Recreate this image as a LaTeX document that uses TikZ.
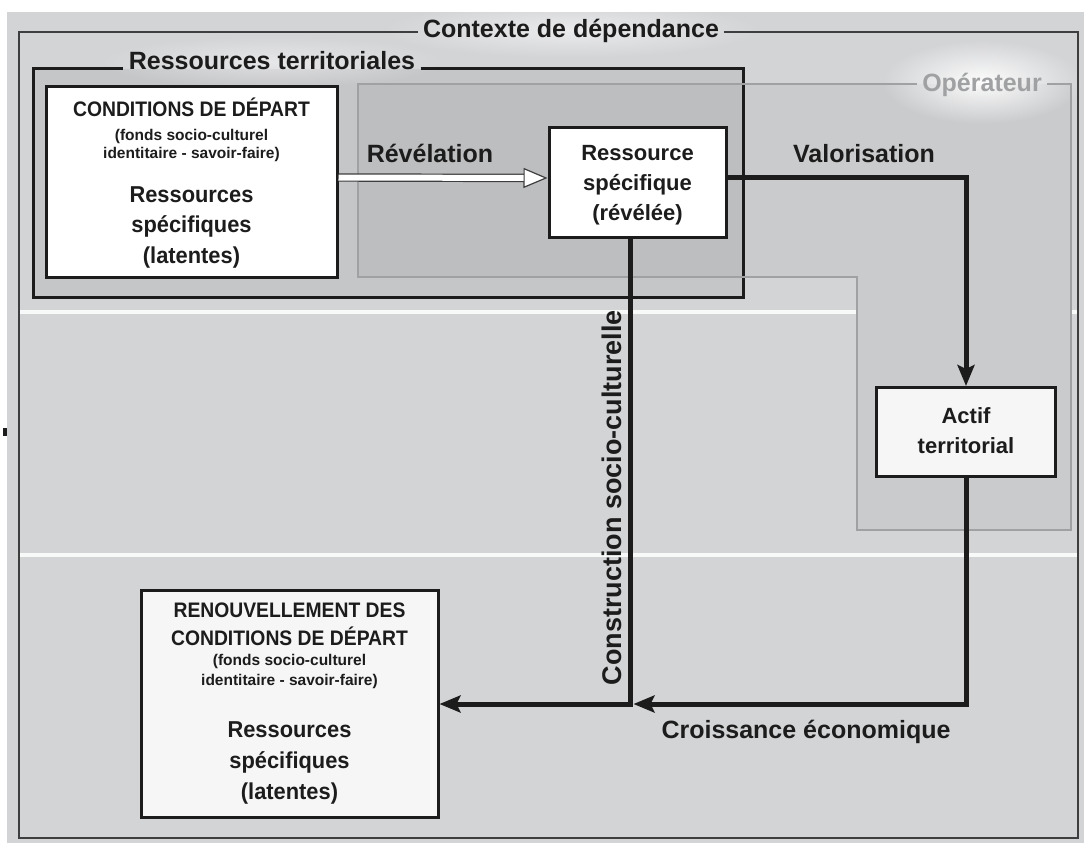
\documentclass[tikz,border=0pt]{standalone}
\usepackage{fontspec}
\setmainfont{Liberation Sans}
\newfontfamily\etroit[FakeStretch=0.92]{Liberation Sans}
\newfontfamily\mietroit[FakeStretch=0.95]{Liberation Sans}
\usetikzlibrary{arrows.meta,fadings}

\definecolor{fond}{RGB}{211,212,214}
\definecolor{ressfond}{RGB}{197,198,200}
\definecolor{opfond}{RGB}{202,203,205}
\definecolor{mixfond}{RGB}{189,190,192}
\definecolor{encre}{RGB}{28,28,28}
\definecolor{opgris}{RGB}{160,161,163}
\definecolor{cassé}{RGB}{246,246,246}
\tikzfading[name=halo, inner color=transparent!0, outer color=transparent!100]

\begin{document}
\begin{tikzpicture}[x=1pt, y=-1pt, thick,
  boite/.style = {draw=encre, line width=3pt, fill=white, inner sep=0pt},
  cadre/.style = {text=encre, font=\fontsize{25}{30}\selectfont\bfseries, anchor=base, inner xsep=5pt},
  gros/.style = {text=encre, font=\fontsize{22}{26}\selectfont\bfseries, anchor=base, inner sep=0pt},
  latent/.style = {text=encre, font=\mietroit\fontsize{23}{26}\selectfont\bfseries, anchor=base, inner sep=0pt},
  caps/.style = {text=encre, font=\etroit\fontsize{21}{24}\selectfont\bfseries, anchor=base, inner sep=0pt},
  petit/.style = {text=encre, font=\fontsize{15.5}{18}\selectfont\bfseries, anchor=base, inner sep=0pt},
  fleche/.style = {draw=encre, line width=5pt, -{Stealth[length=21pt, width=17pt, inset=4pt]}},
  revel/.style = {draw=encre!85, line width=1.2pt, double=white, double distance=6pt,
    -{Triangle[length=24pt, width=20pt, line width=1.2pt, fill=white]}}]

\useasboundingbox (0,0) rectangle (1084,843);

% fonds
\fill[fond] (7,12) rectangle (1084,843);
\draw[white!85!fond, line width=4pt] (20,312) -- (1077,312);
\draw[white!85!fond, line width=4pt] (20,555) -- (1077,555);
\fill[ressfond] (33,69) rectangle (743,297);
\fill[opfond] (358,84) -- (1071,84) -- (1071,530) -- (857,530) -- (857,277) -- (358,277) -- cycle;
\fill[mixfond] (358,84) rectangle (743,277);
\fill[encre] (3,428) rectangle (7,436);

% halos
\fill[white, path fading=halo, opacity=.55] (571,30) ellipse [x radius=190pt, y radius=28pt];
\fill[white, path fading=halo, opacity=.45] (272,62) ellipse [x radius=175pt, y radius=26pt];
\fill[white, path fading=halo, opacity=.95] (982,82) ellipse [x radius=100pt, y radius=42pt];

% cadres
\coordinate (c1) at (19,32);
\coordinate (c2) at (1078,838);
\coordinate (r1) at (33,69);
\coordinate (r2) at (743,297);
\coordinate (o1) at (358,84);
\coordinate (o2) at (1071,530);
\coordinate (o3) at (857,277);
\node[cadre] (ctx) at (571,38) {Contexte de dépendance};
\node[cadre] (rt) at (272,70) {Ressources territoriales};
\node[cadre, text=opgris] (op) at (982,92) {Opérateur};
\draw[draw=encre!85, line width=2.5pt] (ctx.east |- c1) -| (c2) -| (c1) -- (ctx.west |- c1);
\draw[draw=encre, line width=3pt] (rt.east |- r1) -| (r2) -| (r1) -- (rt.west |- r1);
\draw[draw=opgris, line width=2pt] (op.east |- o1) -| (o2) -| (o3) -| (o1) -- (op.west |- o1);

% boites
\node[boite, minimum width=291pt, minimum height=191pt] (cond) at (191.5,181.5) {};
\node[caps] (cond1) at (191.5,116) {CONDITIONS DE DÉPART};
\node[petit] (cond2) at (191.5,140) {(fonds socio-culturel};
\node[petit] (cond3) at (191.5,158) {identitaire - savoir-faire)};
\node[latent] (cond4) at (191.5,202) {Ressources};
\node[latent] (cond5) at (191.5,232) {spécifiques};
\node[latent] (cond6) at (191.5,263) {(latentes)};

\node[boite, minimum width=177pt, minimum height=110pt] (spec) at (637.5,182) {};
\node[gros] (spec1) at (637.5,160) {Ressource};
\node[gros] (spec2) at (637.5,190) {spécifique};
\node[gros] (spec3) at (637.5,220) {(révélée)};

\node[boite, fill=cassé, minimum width=179pt, minimum height=89pt] (actif) at (966,432) {};
\node[gros] (actif1) at (966,423) {Actif};
\node[gros] (actif2) at (966,453) {territorial};

\node[boite, fill=cassé, minimum width=297pt, minimum height=227pt] (renouv) at (289.5,704) {};
\node[caps] (ren1) at (289.5,617) {RENOUVELLEMENT DES};
\node[caps] (ren2) at (289.5,645) {CONDITIONS DE DÉPART};
\node[petit] (ren3) at (289.5,665) {(fonds socio-culturel};
\node[petit] (ren4) at (289.5,685) {identitaire - savoir-faire)};
\node[latent] (ren5) at (289.5,737) {Ressources};
\node[latent] (ren6) at (289.5,768) {spécifiques};
\node[latent] (ren7) at (289.5,799) {(latentes)};

% fleches
\node[cadre, inner sep=0pt] (revl) at (430,162) {Révélation};
\node[cadre, inner sep=0pt] (valo) at (864,162) {Valorisation};
\node[cadre, inner sep=0pt, font=\fontsize{27}{30}\selectfont\bfseries, rotate=90] (constr) at (621,497.5) {Construction socio-culturelle};
\node[cadre, inner sep=0pt] (crois) at (806,738) {Croissance économique};

\draw[revel] ([yshift=4pt]cond.east) -- ([yshift=4pt]spec.west);
\draw[fleche] ([yshift=5pt]spec.east) -| (actif.north);
\coordinate (junc) at ([xshift=-7pt]spec.south |- renouv.east);
\draw[fleche] ([xshift=-7pt]spec.south) -- (junc) -- (renouv.east);
\draw[fleche, shorten >=3pt] (actif.south) |- (junc);
\end{tikzpicture}
\end{document}
